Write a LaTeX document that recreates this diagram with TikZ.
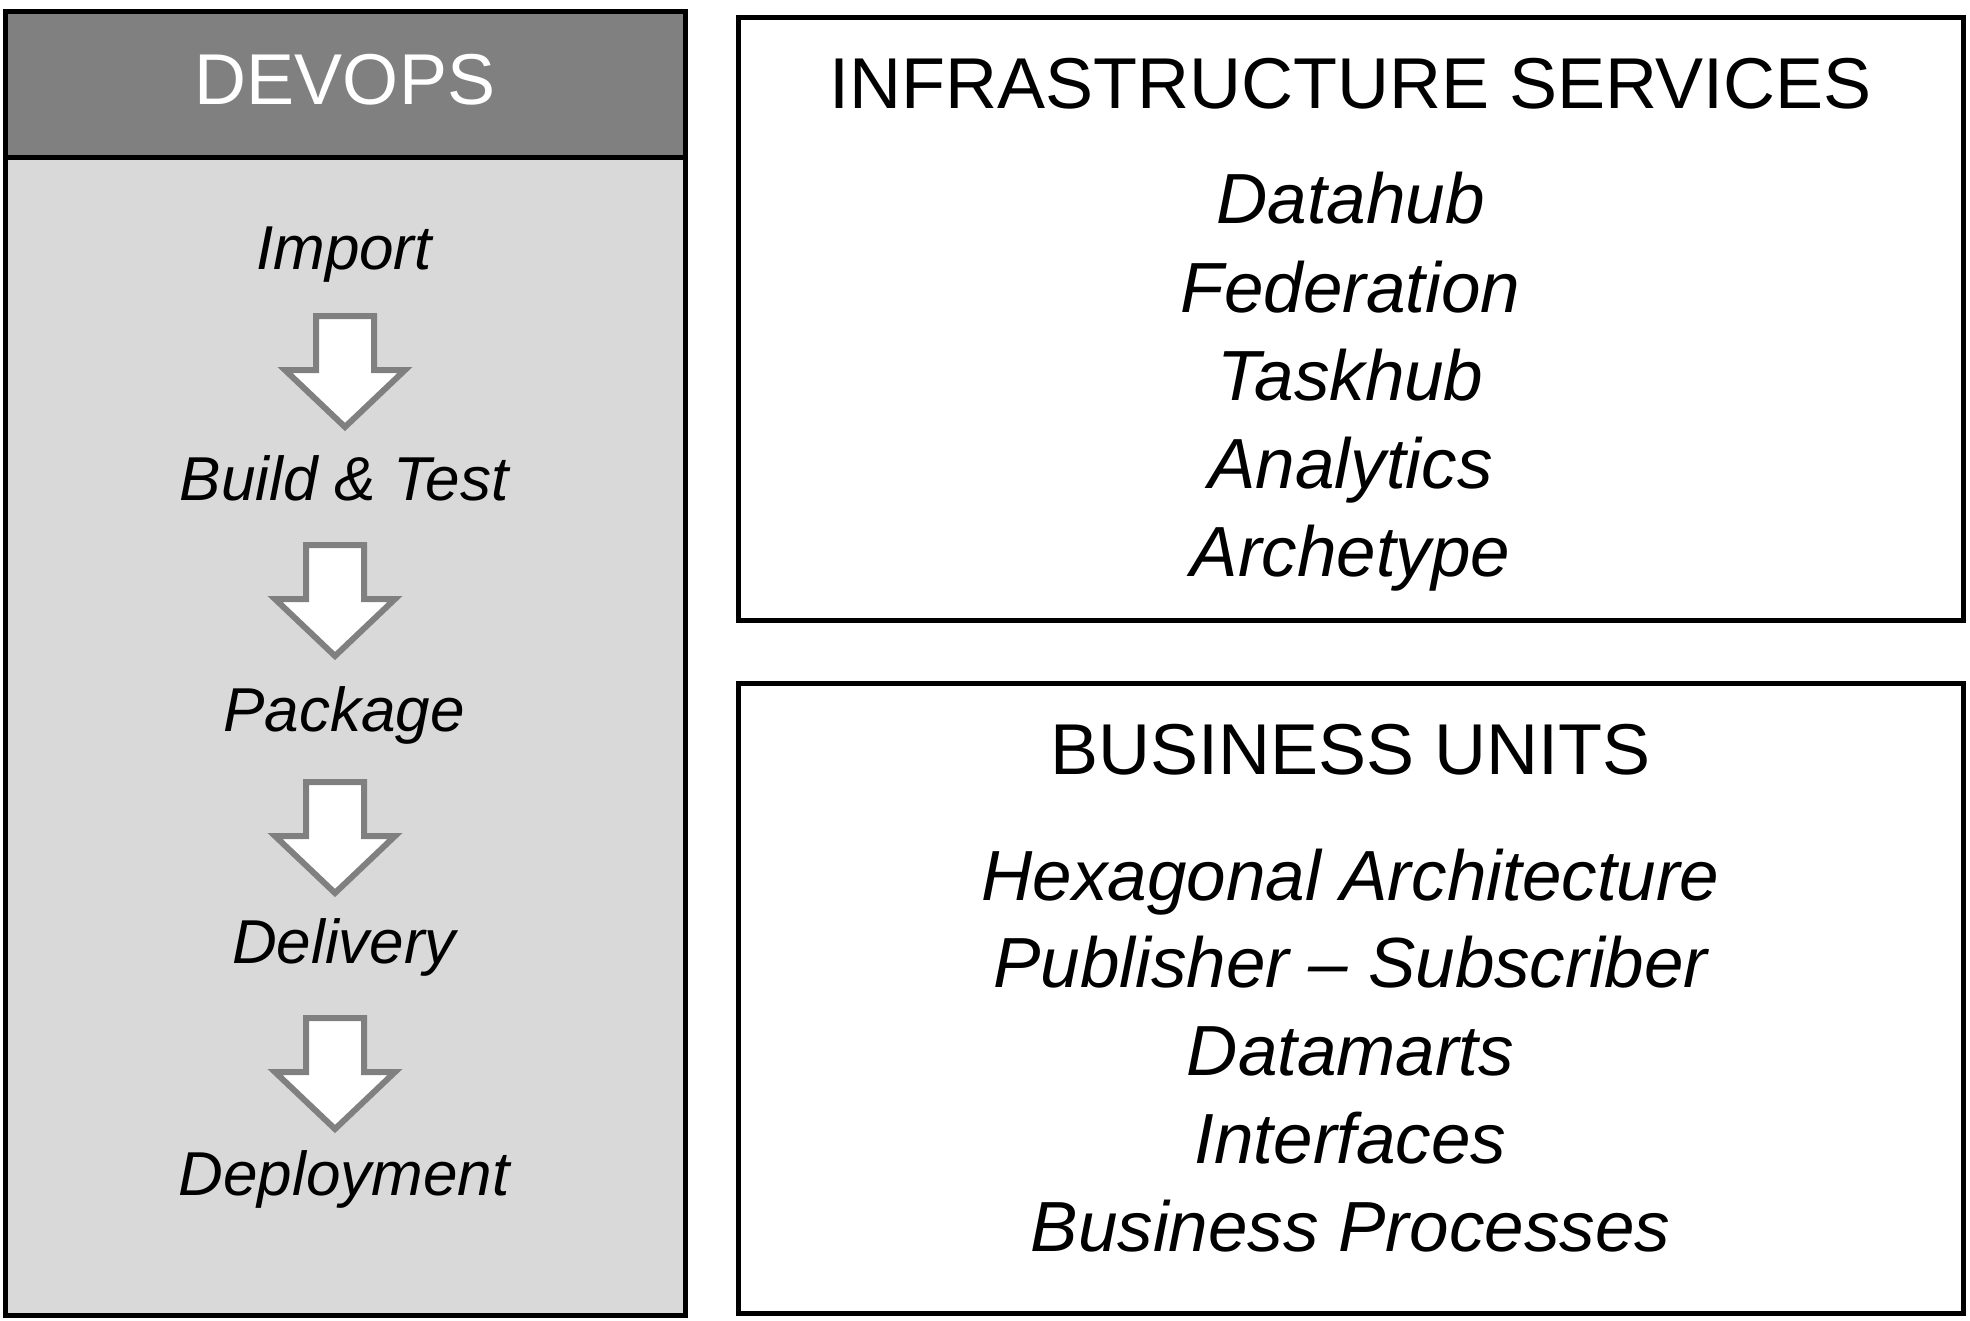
\documentclass[tikz,border=0pt]{standalone}
\usepackage{fontspec}
\setmainfont{Liberation Sans}
\definecolor{hdrgray}{HTML}{808080}
\definecolor{bodygray}{HTML}{D9D9D9}
\definecolor{arrgray}{HTML}{808080}
\begin{document}
\begin{tikzpicture}[x=1pt,y=-1pt,
  heading/.style={anchor=base, inner sep=0pt, font=\fontsize{72}{86}\selectfont},
  rightitem/.style={anchor=base, inner sep=0pt, font=\fontsize{71}{85}\selectfont\itshape},
  leftitem/.style={anchor=base, inner sep=0pt, font=\fontsize{62}{74}\selectfont\itshape},
  panel/.style={draw=black, line width=5pt},
  flowarrow/.style={draw=arrgray, fill=white, line width=6pt, line join=miter},
  downarr/.pic={\path[flowarrow] (-29,0) -- (29,0) -- (29,54) -- (60,54) -- (0,111) -- (-60,54) -- (-29,54) -- cycle;}
]
\useasboundingbox (0,0) rectangle (1970,1320);
\fill[white] (0,0) rectangle (1970,1320);

% DEVOPS panel
\fill[bodygray] (5.5,11.5) rectangle (685.5,1315.5);
\fill[hdrgray] (5.5,11.5) rectangle (685.5,157);
\draw[line width=5pt] (5.5,157) -- (685.5,157);
\draw[panel] (5.5,11.5) rectangle (685.5,1315.5);
\node[heading, text=white] (devops) at (345,104) {DEVOPS};

\node[leftitem] (import) at (344,269) {Import};
\node[leftitem] (build) at (344,500) {Build \& Test};
\node[leftitem] (package) at (344,731) {Package};
\node[leftitem] (delivery) at (344,963) {Delivery};
\node[leftitem] (deploy) at (344,1195) {Deployment};

\pic at (345,316) {downarr};
\pic at (335,545) {downarr};
\pic at (335,782) {downarr};
\pic at (335,1018) {downarr};

% Infrastructure panel
\draw[panel] (738,17) rectangle (1963,620);
\node[heading] (infra) at (1350.5,108) {INFRASTRUCTURE SERVICES};
\node[rightitem] (datahub) at (1350.5,223) {Datahub};
\node[rightitem] (federation) at (1350.5,312) {Federation};
\node[rightitem] (taskhub) at (1350.5,400) {Taskhub};
\node[rightitem] (analytics) at (1350.5,488) {Analytics};
\node[rightitem] (archetype) at (1350.5,576) {Archetype};

% Business panel
\draw[panel] (738,683) rectangle (1963,1313);
\node[heading] (business) at (1350.5,774) {BUSINESS UNITS};
\node[rightitem] (hexa) at (1350.5,900) {Hexagonal Architecture};
\node[rightitem] (pubsub) at (1350.5,987) {Publisher – Subscriber};
\node[rightitem] (datamarts) at (1350.5,1075) {Datamarts};
\node[rightitem] (interfaces) at (1350.5,1163) {Interfaces};
\node[rightitem] (bproc) at (1350.5,1251) {Business Processes};
\end{tikzpicture}
\end{document}
